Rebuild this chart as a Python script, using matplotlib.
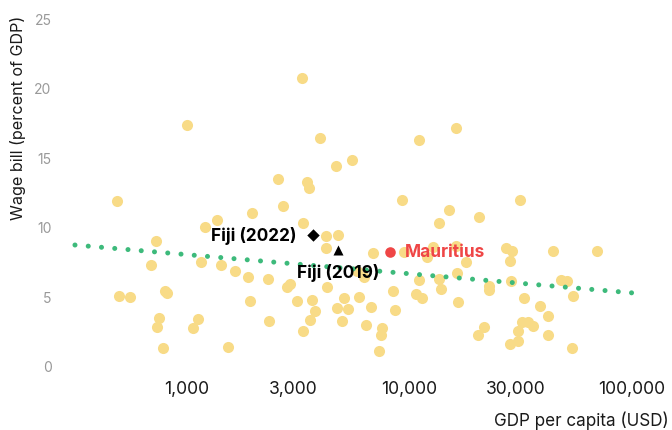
import matplotlib
matplotlib.use("Agg")
import matplotlib.pyplot as plt
from matplotlib.ticker import FixedLocator, FixedFormatter, NullLocator

plt.rcParams["font.family"] = ["Inter", "DejaVu Sans"]

# GDP per capita (USD) and wage bill (% of GDP)
gdp_per_capita = [
    3290, 1000, 3960, 4670, 2560, 3460, 3530, 485, 2700, 1960,
    16180, 11030, 5520, 9250, 15050, 20530, 31380, 1205, 726, 1156,
    689, 495, 554, 796, 813, 748, 733, 1121, 1064, 780,
    1530, 1920, 2340, 3120, 3650, 3760, 3570, 3320, 5080, 4720,
    5290, 4970, 1360, 3320, 1420, 1640, 1880, 2310, 2810, 2900,
    4215, 4770, 4215, 4260, 13570, 6860, 9450, 12760, 11990, 16180,
    17940, 16350, 5810, 6250, 11030, 13570, 13860, 8430, 10700, 11380,
    16520, 5930, 6710, 8610, 6380, 7525, 7450, 7300, 21620, 20320,
    22770, 22770, 27140, 28880, 28290, 44150, 69600, 28580, 47960, 51050,
    54310, 32700, 38600, 41930, 32030, 34090, 35910, 30730, 30730, 28290,
    41930, 53750,
]
wage_bill = [
    20.7, 17.3, 16.4, 14.4, 13.4, 13.2, 12.8, 11.85, 11.5, 11.0,
    17.1, 16.2, 14.8, 11.9, 11.2, 10.7, 11.9, 10.0, 9.0, 7.5,
    7.25, 5.0, 4.95, 5.4, 5.25, 3.45, 2.8, 3.4, 2.75, 1.3,
    1.35, 4.65, 3.25, 4.65, 4.75, 3.95, 3.3, 2.5, 4.9, 4.15,
    4.1, 3.25, 10.5, 10.25, 7.25, 6.8, 6.4, 6.25, 5.7, 5.9,
    9.35, 9.4, 8.5, 5.7, 10.3, 8.1, 8.2, 8.55, 7.85, 8.6,
    7.45, 6.7, 6.8, 6.4, 6.2, 6.25, 5.55, 5.4, 5.15, 4.9,
    4.6, 4.95, 4.25, 4.0, 2.95, 2.75, 2.2, 1.1, 2.8, 2.2,
    5.75, 5.45, 8.5, 8.25, 7.55, 8.25, 8.25, 6.1, 6.2, 6.1,
    5.0, 4.9, 4.3, 3.6, 3.15, 3.15, 2.9, 2.5, 1.8, 1.6,
    2.2, 1.3,
]

# highlighted economies
fiji_2022 = (3680, 9.4)
fiji_2019 = (4770, 8.35)
mauritius = (8170, 8.2)

# fitted trend line end points
trend_x = [314, 102000]
trend_y = [8.69, 5.24]

x_ticks = [1000, 3000, 10000, 30000, 100000]
x_tick_labels = ["1,000", "3,000", "10,000", "30,000", "100,000"]
y_ticks = [0, 5, 10, 15, 20, 25]

YELLOW = "#f8db87"
GREEN = "#3dba7b"
RED = "#ef4646"

fig = plt.figure(figsize=(6.72, 4.31), dpi=100)
ax = fig.add_axes([0.0893, 0.1163, 0.8929, 0.8719])

ax.scatter(gdp_per_capita, wage_bill, s=64, color=YELLOW, linewidths=0,
           zorder=2, clip_on=False)

ax.plot(trend_x, trend_y, color=GREEN, linewidth=3.6,
        linestyle=(0, (0.01, 2.65)), dash_capstyle="round", zorder=3)

ax.scatter([fiji_2022[0]], [fiji_2022[1]], marker="D", s=40, color="black",
           linewidths=0, zorder=5)
ax.scatter([fiji_2019[0]], [fiji_2019[1]], marker="^", s=52, color="black",
           linewidths=0, zorder=5)
ax.scatter([mauritius[0]], [mauritius[1]], marker="o", s=58, color=RED,
           linewidths=0, zorder=5)

label_size = 12.4
ax.annotate("Fiji (2022)", fiji_2022, xytext=(-11.5, 0), textcoords="offset points",
            ha="right", va="center", fontsize=label_size, fontweight="bold",
            color="black", zorder=6)
ax.annotate("Fiji (2019)", fiji_2019, xytext=(-29.5, -15.8), textcoords="offset points",
            ha="left", va="center", fontsize=label_size, fontweight="bold",
            color="black", zorder=6)
ax.annotate("Mauritius", mauritius, xytext=(10.8, 0), textcoords="offset points",
            ha="left", va="center", fontsize=label_size, fontweight="bold",
            color=RED, zorder=6)

ax.set_xscale("log")
ax.set_xlim(269, 133600)
ax.set_ylim(-1, 26)

ax.xaxis.set_major_locator(FixedLocator(x_ticks))
ax.xaxis.set_major_formatter(FixedFormatter(x_tick_labels))
ax.xaxis.set_minor_locator(NullLocator())
ax.set_yticks(y_ticks)

ax.tick_params(axis="x", length=0, pad=0, labelsize=12.6, labelcolor="#1a1a1a")
ax.tick_params(axis="y", length=0, pad=6, labelsize=10, labelcolor="#999999")

for side in ["top", "right", "bottom", "left"]:
    ax.spines[side].set_visible(False)

fig.text(18 / 672, 1 - 118 / 431, "Wage bill (percent of GDP)", rotation=90,
         ha="center", va="center", fontsize=11.6, color="#1a1a1a")
fig.text(669 / 672, 1 - 421 / 431, "GDP per capita (USD)", ha="right",
         va="center", fontsize=12.3, color="#1a1a1a")

fig.savefig("out.png", dpi=100)
